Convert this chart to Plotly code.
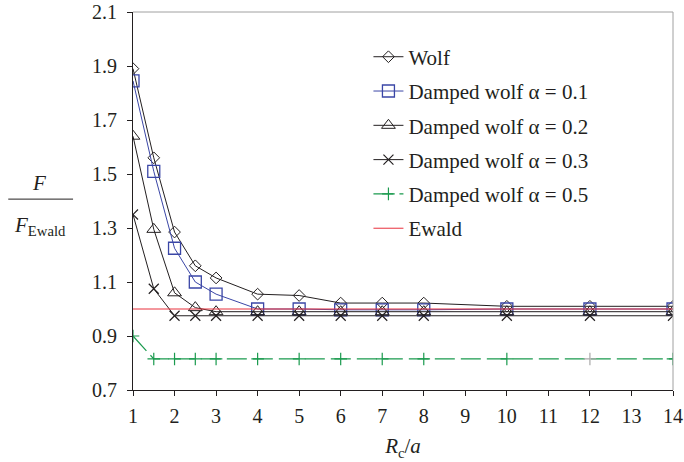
import plotly.graph_objects as go

rc = [1, 1.5, 2, 2.5, 3, 4, 5, 6, 7, 8, 10, 12, 14]
wolf = [1.89, 1.56, 1.285, 1.16, 1.115, 1.055, 1.05, 1.022, 1.022, 1.022, 1.01, 1.01, 1.01]
damped_01 = [1.845, 1.51, 1.225, 1.10, 1.055, 1.0, 1.0, 0.997, 0.997, 0.997, 1.0, 1.0, 1.0]
damped_02 = [1.64, 1.295, 1.06, 1.005, 0.99, 0.99, 0.99, 0.99, 0.99, 0.99, 0.99, 0.99, 0.99]
damped_03 = [1.35, 1.075, 0.975, 0.975, 0.975, 0.975, 0.975, 0.975, 0.975, 0.975, 0.975, 0.975, 0.975]
damped_05 = [0.9, 0.815, 0.815, 0.815, 0.815, 0.815, 0.815, 0.815, 0.815, 0.815, 0.815, 0.815, 0.815]
ewald_x = [1, 14]
ewald = [1.0, 1.0]

x_ticks = list(range(1, 15))
y_ticks = [0.7, 0.9, 1.1, 1.3, 1.5, 1.7, 1.9, 2.1]

FONT = "Liberation Serif"
BLACK = "#231f20"
BLUE = "#3a46a6"
GREEN = "#1a9a4e"
RED = "#e8303c"

fig = go.Figure()
fig.add_trace(go.Scatter(x=rc, y=wolf, name="Wolf", mode="lines+markers", legendgroup="a",
                         line=dict(color=BLACK, width=1),
                         marker=dict(symbol="diamond-open", size=9, color=BLACK, line=dict(width=1))))
fig.add_trace(go.Scatter(x=rc, y=damped_01, name="Damped wolf α = 0.1", mode="lines+markers", legendgroup="b",
                         line=dict(color=BLUE, width=1),
                         marker=dict(symbol="square-open", size=12, color=BLUE, line=dict(width=1.3))))
fig.add_trace(go.Scatter(x=rc, y=damped_02, name="Damped wolf α = 0.2", mode="lines+markers", legendgroup="c",
                         line=dict(color=BLACK, width=1),
                         marker=dict(symbol="triangle-up-open", size=12, color=BLACK, line=dict(width=1))))
fig.add_trace(go.Scatter(x=rc, y=damped_03, name="Damped wolf α = 0.3", mode="lines+markers", legendgroup="d",
                         line=dict(color=BLACK, width=1),
                         marker=dict(symbol="x-thin-open", size=10, color=BLACK, line=dict(width=1.2, color=BLACK))))
m5_colors = [GREEN] * len(rc)
m5_colors[rc.index(12)] = "#aaaaaa"
fig.add_trace(go.Scatter(x=rc, y=damped_05, name="Damped wolf α = 0.5", mode="lines+markers", legendgroup="e",
                         line=dict(color=GREEN, width=1.2, dash="20px,6px"),
                         marker=dict(symbol="cross-thin-open", size=9, color=m5_colors,
                                     line=dict(width=1.2, color=m5_colors))))
fig.add_trace(go.Scatter(x=ewald_x, y=ewald, name="Ewald", mode="lines", legendgroup="f",
                         line=dict(color=RED, width=1)))

fig.update_layout(
    template="none",
    width=684, height=462,
    margin=dict(l=133, r=11, t=12, b=72),
    paper_bgcolor="white", plot_bgcolor="white",
    font=dict(family=FONT, size=20, color=BLACK),
    showlegend=True,
    legend=dict(x=0.436, y=0.935, xanchor="left", yanchor="top",
                bgcolor="rgba(0,0,0,0)", font=dict(family=FONT, size=21, color=BLACK),
                tracegroupgap=4, traceorder="grouped"),
    xaxis=dict(range=[1, 14], tickvals=x_ticks, ticktext=[str(v) for v in x_ticks],
               showgrid=False, zeroline=False, showline=True, linecolor=BLACK, linewidth=1,
               ticks="outside", ticklen=5, tickcolor=BLACK, tickfont=dict(family=FONT, size=20),
               ticklabelstandoff=3, automargin=False,
               title=dict(text="<i>R</i><sub>c</sub>/<i>a</i>", font=dict(family=FONT, size=21), standoff=12)),
    yaxis=dict(range=[0.7, 2.1], tickvals=y_ticks, ticktext=[f"{v:.1f}" for v in y_ticks],
               showgrid=False, zeroline=False, showline=True, linecolor=BLACK, linewidth=1,
               ticks="outside", ticklen=5, tickcolor=BLACK, tickfont=dict(family=FONT, size=20),
               ticklabelstandoff=6, automargin=False),
)

# top and right frame lines (grey)
fig.add_shape(type="line", xref="paper", yref="paper", x0=0, x1=1, y0=1, y1=1,
              line=dict(color="#a0a0a0", width=1))
fig.add_shape(type="line", xref="paper", yref="paper", x0=1, x1=1, y0=0, y1=1,
              line=dict(color="#a0a0a0", width=1))

# y-axis title as a fraction
fig.add_annotation(text="<i>F</i>", xref="paper", yref="paper", x=-0.174, y=0.547,
                   xanchor="center", yanchor="middle",
                   showarrow=False, font=dict(family=FONT, size=21, color=BLACK))
fig.add_annotation(text="<i>F</i><sub>Ewald</sub>", xref="paper", yref="paper", x=-0.172, y=0.435,
                   xanchor="center", yanchor="middle",
                   showarrow=False, font=dict(family=FONT, size=21, color=BLACK))
fig.add_shape(type="line", xref="paper", yref="paper", x0=-0.231, x1=-0.111, y0=0.505, y1=0.505,
              line=dict(color=BLACK, width=1))

fig.write_html("out.html", post_script="document.body.style.margin='0';",
               config={"displayModeBar": False})
